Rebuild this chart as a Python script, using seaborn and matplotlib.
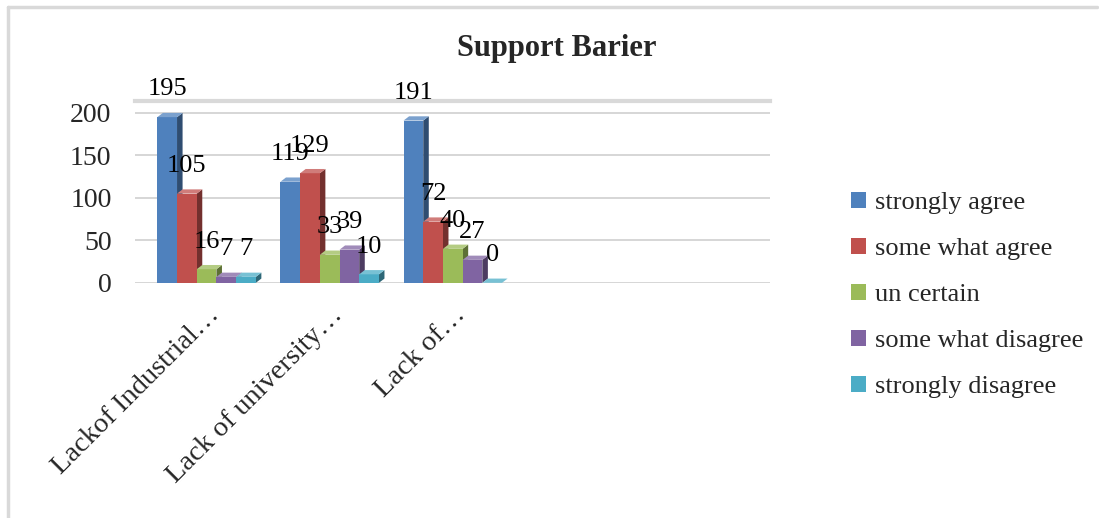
import matplotlib
matplotlib.use("Agg")
import matplotlib.pyplot as plt
from matplotlib.patches import Polygon
from matplotlib.lines import Line2D
import seaborn as sns
import pandas as pd
import numpy as np

# Survey responses per barrier
categories = ["Lackof Industrial…", "Lack of university…", "Lack of…"]
responses = ["strongly agree", "some what agree", "un certain",
             "some what disagree", "strongly disagree"]
strongly_agree = [195, 119, 191]
some_what_agree = [105, 129, 72]
un_certain = [16, 33, 40]
some_what_disagree = [7, 39, 27]
strongly_disagree = [7, 10, 0]
y_ticks = [0, 50, 100, 150, 200]

colors = ["#4F81BD", "#C0504D", "#9BBB59", "#8064A2", "#4BACC6"]

series = [strongly_agree, some_what_agree, un_certain,
          some_what_disagree, strongly_disagree]
rows = []
for resp, vals in zip(responses, series):
    for cat, v in zip(categories, vals):
        rows.append({"category": cat, "response": resp, "count": v})
df = pd.DataFrame(rows)

sns.set_theme(style="white")
plt.rcParams["font.family"] = ["Liberation Serif", "DejaVu Serif"]

fig = plt.figure(figsize=(10.99, 5.18), dpi=100)
ax = fig.add_axes([0.123, 0.454, 0.578, 0.351])

sns.barplot(data=df, x="category", y="count", hue="response",
            hue_order=responses, order=categories, palette=colors,
            width=0.8, saturation=1, edgecolor="none", ax=ax, legend=True)

ax.set_xlim(-0.58, 4.58)
ax.set_ylim(0, 214)
ax.set_yticks(y_ticks)
ax.yaxis.grid(True, color="#D0D0D0", linewidth=1.2)
ax.set_axisbelow(True)
for side in ["left", "right", "bottom"]:
    ax.spines[side].set_visible(False)
ax.spines["top"].set_color("#D9D9D9")
ax.spines["top"].set_linewidth(3)

# Give each bar a shaded side and top face for a 3-D look
dx, dy = 0.045, 5.0


def shade(rgb, f):
    rgb = np.array(rgb)
    if f < 1:
        return tuple(rgb * f)
    return tuple(rgb + (1 - rgb) * (f - 1))


bars = sorted([p for p in ax.patches if 0 < p.get_width() < 1],
              key=lambda p: p.get_x())
for z, p in enumerate(bars):
    x, w, h = p.get_x(), p.get_width(), p.get_height()
    c = p.get_facecolor()[:3]
    p.set_zorder(3 + z * 0.01)
    side = Polygon([(x + w, 0), (x + w + dx, dy), (x + w + dx, h + dy), (x + w, h)],
                   closed=True, facecolor=shade(c, 0.6), edgecolor="none",
                   zorder=2.995 + z * 0.01)
    top = Polygon([(x, h), (x + dx, h + dy), (x + w + dx, h + dy), (x + w, h)],
                  closed=True, facecolor=shade(c, 1.25), edgecolor="none",
                  zorder=3.005 + z * 0.01)
    ax.add_patch(side)
    ax.add_patch(top)

# Value labels
for cont in ax.containers:
    for rect, v in zip(cont.patches, cont.datavalues):
        ax.annotate(f"{int(v)}", (rect.get_x() + rect.get_width() / 2, v),
                    xytext=(0, 12), textcoords="offset points",
                    ha="center", va="bottom", fontsize=19, color="black",
                    zorder=10, annotation_clip=False)

ax.set_xlabel("")
ax.set_ylabel("")
ax.tick_params(axis="y", labelsize=20, length=0, pad=17)
ax.tick_params(axis="x", length=0, pad=14)
for lbl in ax.get_xticklabels():
    lbl.set_rotation(45)
    lbl.set_ha("right")
    lbl.set_va("top")
    lbl.set_rotation_mode("anchor")
    lbl.set_fontsize(20.5)

leg = ax.get_legend()
leg.remove()
handles = [plt.Rectangle((0, 0), 1, 1, facecolor=c, edgecolor="none") for c in colors]
fig.legend(handles, responses, loc="upper left", bbox_to_anchor=(0.765, 0.65),
           frameon=False, fontsize=19, handlelength=0.55, handleheight=0.55,
           handletextpad=0.35, labelspacing=0.9, borderaxespad=0)

fig.text(0.507, 0.907, "Support Barier", ha="center", va="center",
         fontsize=22, fontweight="bold")

# Light frame along the top and left edges
fig.add_artist(Line2D([8 / 1099, 1097 / 1099], [1 - 7 / 518, 1 - 7 / 518],
                      color="#D9D9D9", linewidth=2.5, transform=fig.transFigure))
fig.add_artist(Line2D([8 / 1099, 8 / 1099], [1 - 7 / 518, 0],
                      color="#D9D9D9", linewidth=2.5, transform=fig.transFigure))

fig.savefig("out.png", dpi=100, facecolor="white")
